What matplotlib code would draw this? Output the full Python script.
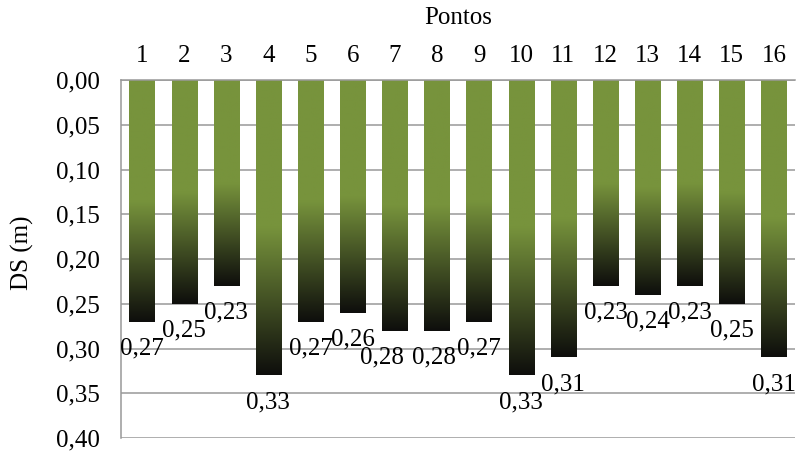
import numpy as np
import matplotlib
matplotlib.use('Agg')
import matplotlib.pyplot as plt
from matplotlib.ticker import FuncFormatter, MultipleLocator
from matplotlib.colors import to_rgb

# data
pontos = list(range(1, 17))
ds = [0.27, 0.25, 0.23, 0.33, 0.27, 0.26, 0.28, 0.28, 0.27, 0.33, 0.31, 0.23, 0.24, 0.23, 0.25, 0.31]

plt.rcParams['font.family'] = ['Liberation Serif', 'DejaVu Serif']
plt.rcParams['font.size'] = 18

fig = plt.figure(figsize=(7.97, 4.53), dpi=100)
ax = fig.add_axes([0.1518, 0.0331, 0.9975 - 0.1518, 0.8234 - 0.0331])

# green on the upper half of each bar, fading to near black at the end
green = np.array(to_rgb('#77933C'))
dark = np.array(to_rgb('#0E0E0C'))
n = 200
t = np.linspace(0, 1, n)
f = np.clip((t - 0.5) / 0.5, 0, 1)
grad = (green[None, :] * (1 - f[:, None]) + dark[None, :] * f[:, None])[:, None, :]

bars = ax.bar(pontos, ds, width=0.6, color='none', zorder=2)
for b in bars:
    x0 = b.get_x()
    ax.imshow(grad, extent=(x0, x0 + b.get_width(), b.get_height(), 0),
              aspect='auto', interpolation='bilinear', zorder=2)

# value labels (Excel nudged 7 and 8 to the left)
shift = {6: -9.4, 7: -2.2}
for i, (p, v) in enumerate(zip(pontos, ds)):
    ax.annotate(f"{v:.2f}".replace('.', ','), (p, v),
                xytext=(shift.get(i, 0), -19.5), textcoords='offset points',
                ha='center', va='center', zorder=3)

ax.set_xlim(0.5, 16.5)
ax.set_ylim(0.40, 0.0)
ax.yaxis.set_major_locator(MultipleLocator(0.05))
ax.yaxis.set_major_formatter(FuncFormatter(lambda v, p: f"{v:.2f}".replace('.', ',')))
ax.set_xticks(pontos)
ax.xaxis.tick_top()
ax.tick_params(axis='both', length=0)
ax.tick_params(axis='y', pad=15)
ax.tick_params(axis='x', pad=9.5)

ax.grid(axis='y', color='#999999', linewidth=1.1, zorder=0)
ax.set_axisbelow(True)
for s in ['right', 'bottom']:
    ax.spines[s].set_visible(False)
for s in ['left', 'top']:
    ax.spines[s].set_color('#999999')
    ax.spines[s].set_linewidth(1.1)

fig.text(458 / 797, 1 - 18 / 453, 'Pontos', ha='center', va='center')
fig.text(22 / 797, 1 - 253 / 453, 'DS (m)', ha='center', va='center', rotation=90)

fig.savefig('out.png', dpi=100)
